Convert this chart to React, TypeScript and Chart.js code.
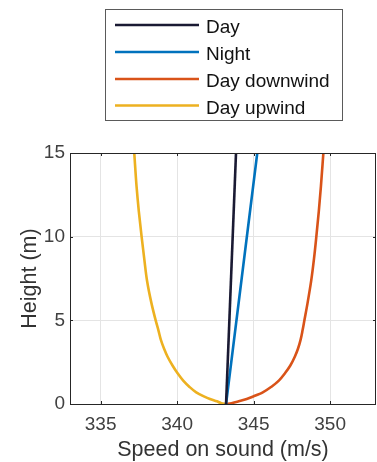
import React, { useEffect, useRef } from "react";
import { Chart, registerables } from "chart.js";

Chart.register(...registerables);

const seriesNames = ["Day", "Night", "Day downwind", "Day upwind"];
const seriesColors = ["#1a1a33", "#0072BD", "#D95319", "#EDB120"];

const dayHeights = [0, 15];
const daySpeed = [343.2, 343.85];

const nightHeights = [0, 15];
const nightSpeed = [343.2, 345.24];

const windHeights = [0, 0.05, 0.16, 0.3, 0.46, 0.7, 1.05, 1.4, 1.85, 2.3, 2.84, 3.3, 3.83, 4.4, 5, 6, 7.4, 8.7, 10, 11.5, 13, 15];
const downwindSpeed = [343.2, 343.55, 344.03, 344.55, 345.0, 345.6, 346.19, 346.65, 347.06, 347.4, 347.7, 347.9, 348.07, 348.2, 348.32, 348.52, 348.77, 348.95, 349.1, 349.26, 349.4, 349.56];
const upwindSpeed = [343.2, 342.9, 342.6, 342.15, 341.75, 341.25, 340.78, 340.4, 340.02, 339.7, 339.37, 339.15, 338.94, 338.78, 338.6, 338.33, 338.03, 337.85, 337.68, 337.5, 337.35, 337.2];

const xTickValues = [335, 340, 345, 350];
const yTickValues = [0, 5, 10, 15];
const xRange = [333, 353];
const yRange = [0, 15];

const xTitle = "Speed on sound (m/s)";
const yTitle = "Height (m)";

const FONT = '"Liberation Sans", Arial, Helvetica, sans-serif';

function pts(xs: number[], ys: number[]) {
  return xs.map((x, i) => ({ x, y: ys[i] }));
}

const framePlugin = {
  id: "framePlugin",
  afterDraw(chart: any) {
    const { ctx, chartArea } = chart;
    const { left, right, top, bottom } = chartArea;
    const xs = chart.scales.x;
    const ys = chart.scales.y;
    ctx.save();
    ctx.strokeStyle = "#262626";
    ctx.lineWidth = 1;
    ctx.strokeRect(Math.round(left) + 0.5, Math.round(top) + 0.5, Math.round(right - left) - 1, Math.round(bottom - top));
    const tl = 3;
    ctx.beginPath();
    xTickValues.forEach((v) => {
      const px = Math.round(xs.getPixelForValue(v)) + 0.5;
      ctx.moveTo(px, bottom);
      ctx.lineTo(px, bottom - tl);
      ctx.moveTo(px, top);
      ctx.lineTo(px, top + tl);
    });
    yTickValues.forEach((v) => {
      const py = Math.round(ys.getPixelForValue(v)) + 0.5;
      ctx.moveTo(left, py);
      ctx.lineTo(left + tl, py);
      ctx.moveTo(right, py);
      ctx.lineTo(right - tl, py);
    });
    ctx.stroke();

    ctx.fillStyle = "#333333";
    ctx.font = `21.5px ${FONT}`;
    ctx.textAlign = "center";
    ctx.textBaseline = "alphabetic";
    ctx.fillText(xTitle, (left + right) / 2, 456);
    ctx.save();
    ctx.translate(36, (top + bottom) / 2);
    ctx.rotate(-Math.PI / 2);
    ctx.fillText(yTitle, 0, 0);
    ctx.restore();

    const bx = 105.5, by = 9.5, bw = 237, bh = 111;
    ctx.fillStyle = "#ffffff";
    ctx.fillRect(bx, by, bw, bh);
    ctx.strokeStyle = "#5a5a5a";
    ctx.lineWidth = 1;
    ctx.strokeRect(bx, by, bw, bh);
    const rows = [25, 52, 79, 105.5];
    ctx.font = `19px ${FONT}`;
    ctx.textAlign = "left";
    ctx.textBaseline = "alphabetic";
    chart.data.datasets.forEach((ds: any, i: number) => {
      const ry = rows[i];
      ctx.strokeStyle = ds.borderColor;
      ctx.lineWidth = 2.6;
      ctx.beginPath();
      ctx.moveTo(115, ry);
      ctx.lineTo(199, ry);
      ctx.stroke();
      ctx.fillStyle = "#111111";
      ctx.fillText(ds.label, 206, ry + 8);
    });
    ctx.restore();
  },
};

export default function App() {
  const ref = useRef<HTMLCanvasElement | null>(null);
  useEffect(() => {
    if (!ref.current) return;
    const datasetsSrc = [
      pts(daySpeed, dayHeights),
      pts(nightSpeed, nightHeights),
      pts(downwindSpeed, windHeights),
      pts(upwindSpeed, windHeights),
    ];
    const chart = new Chart(ref.current, {
      type: "scatter",
      data: {
        datasets: datasetsSrc.map((d, i) => ({
          label: seriesNames[i],
          data: d,
          showLine: true,
          indexAxis: "y",
          cubicInterpolationMode: "monotone",
          borderColor: seriesColors[i],
          backgroundColor: seriesColors[i],
          borderWidth: 2.6,
          pointRadius: 0,
        })),
      },
      options: {
        animation: false,
        responsive: false,
        devicePixelRatio: 1,
        layout: { padding: { top: 153, right: 1, left: 0, bottom: 0 } },
        plugins: {
          legend: { display: false },
          tooltip: { enabled: false },
        },
        scales: {
          x: {
            type: "linear",
            min: xRange[0],
            max: xRange[1],
            afterBuildTicks: (s: any) => {
              s.ticks = xTickValues.map((v) => ({ value: v }));
            },
            afterFit: (s: any) => {
              s.height = 58;
            },
            grid: { color: "#e4e4e4", drawTicks: false, lineWidth: 1 },
            border: { display: false },
            ticks: {
              padding: 9,
              color: "#404040",
              font: { family: FONT, size: 19 },
              maxRotation: 0,
            },
          },
          y: {
            type: "linear",
            min: yRange[0],
            max: yRange[1],
            afterBuildTicks: (s: any) => {
              s.ticks = yTickValues.map((v) => ({ value: v }));
            },
            afterFit: (s: any) => {
              s.width = 70;
            },
            grid: { color: "#e4e4e4", drawTicks: false, lineWidth: 1 },
            border: { display: false },
            ticks: {
              padding: 5,
              color: "#404040",
              font: { family: FONT, size: 19 },
            },
          },
        },
      },
      plugins: [framePlugin],
    });
    return () => chart.destroy();
  }, []);
  return (
    <div style={{ position: "fixed", left: 0, top: 0, width: 377, height: 462, background: "#fff" }}>
      <canvas ref={ref} width={377} height={462} style={{ display: "block" }} />
    </div>
  );
}
